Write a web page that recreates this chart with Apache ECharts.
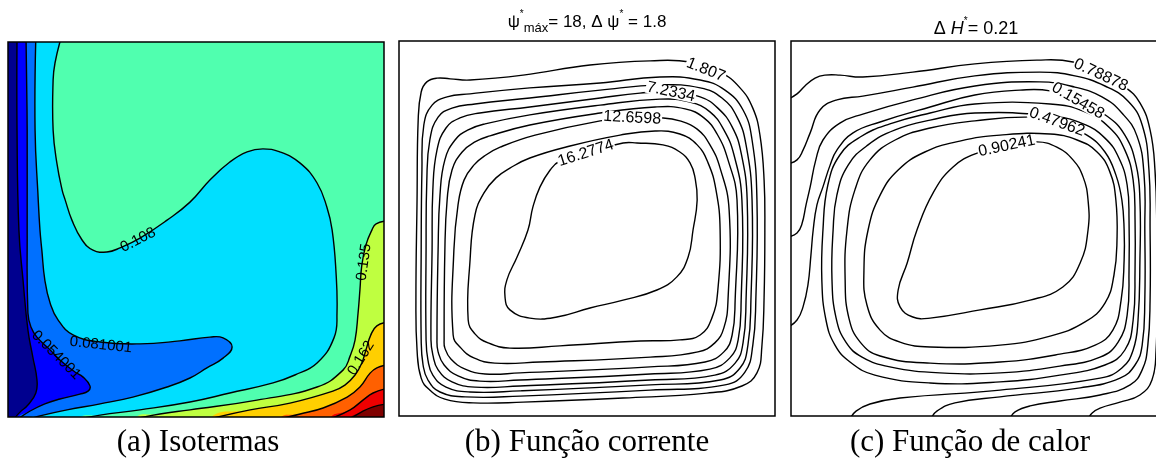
<!DOCTYPE html>
<html>
<head>
<meta charset="utf-8">
<script src="https://cdn.jsdelivr.net/npm/echarts/dist/echarts.min.js"></script>
<style>
  html, body { margin: 0; padding: 0; background: #fff; }
  #chart { width: 1156px; height: 463px; }
</style>
</head>
<body>
<div id="chart"></div>
<script>
// ---------- (a) Isotermas: dimensionless temperature bands ----------
const isoLevels = [0.027, 0.054, 0.081, 0.108, 0.135, 0.162, 0.189, 0.216, 0.243];
const isoBandColors = ['#00008F', '#0000FF', '#0070FF', '#00DFFF', '#50FFAF',
                       '#BFFF40', '#FFCF00', '#FF6000', '#EF0000', '#800000'];

// Isotherms in cavity coordinates (X, Y), from the wall where they enter down to the floor
const iso027 = [[0.024,1.011],[0.024,0.765],[0.029,0.499],[0.040,0.365],[0.053,0.232],[0.066,0.160],[0.077,0.099],[0.074,0.064],[0.053,0.032],[0.032,0.013],[0.013,-0.008]];
const iso054 = [[0.048,1.011],[0.051,0.765],[0.051,0.499],[0.053,0.277],[0.061,0.240],[0.077,0.213],[0.112,0.179],[0.138,0.152],[0.178,0.120],[0.199,0.107],[0.218,0.083],[0.213,0.069],[0.191,0.061],[0.138,0.048],[0.098,0.035],[0.059,0.016],[0.027,-0.005]];
const iso081 = [[0.074,1.011],[0.072,0.765],[0.080,0.587],[0.085,0.499],[0.090,0.445],[0.098,0.365],[0.112,0.304],[0.133,0.259],[0.173,0.219],[0.245,0.200],[0.351,0.195],[0.457,0.203],[0.537,0.213],[0.572,0.211],[0.596,0.187],[0.572,0.157],[0.529,0.131],[0.484,0.104],[0.423,0.080],[0.332,0.053],[0.245,0.035],[0.157,0.019],[0.085,0.003],[0.059,-0.005]];
const iso108 = [[0.141,1.011],[0.125,0.944],[0.120,0.899],[0.120,0.765],[0.130,0.677],[0.144,0.605],[0.152,0.579],[0.170,0.525],[0.197,0.472],[0.226,0.445],[0.263,0.440],[0.298,0.451],[0.351,0.477],[0.423,0.525],[0.484,0.573],[0.537,0.632],[0.590,0.680],[0.636,0.707],[0.678,0.715],[0.723,0.707],[0.777,0.677],[0.822,0.624],[0.848,0.560],[0.862,0.499],[0.872,0.392],[0.875,0.277],[0.867,0.211],[0.822,0.144],[0.763,0.112],[0.705,0.091],[0.590,0.064],[0.484,0.040],[0.351,0.019],[0.245,0.005],[0.191,-0.005]];
const iso135 = [[1.011,0.523],[0.979,0.515],[0.968,0.499],[0.952,0.459],[0.941,0.405],[0.936,0.339],[0.931,0.277],[0.923,0.205],[0.910,0.163],[0.891,0.125],[0.822,0.080],[0.662,0.045],[0.484,0.019],[0.404,0.008],[0.338,-0.005]];
const iso162 = [[1.011,0.253],[0.981,0.243],[0.965,0.219],[0.952,0.179],[0.941,0.144],[0.923,0.112],[0.896,0.085],[0.864,0.069],[0.750,0.037],[0.644,0.019],[0.537,-0.005]];
const iso189 = [[1.011,0.139],[0.981,0.131],[0.963,0.117],[0.936,0.080],[0.902,0.053],[0.838,0.024],[0.777,0.008],[0.723,-0.005]];
const iso216 = [[1.011,0.077],[0.971,0.064],[0.944,0.045],[0.910,0.019],[0.856,-0.005]];
const iso243 = [[1.011,0.035],[0.971,0.027],[0.936,0.011],[0.910,-0.005]];
const isoLines = [iso027, iso054, iso081, iso108, iso135, iso162, iso189, iso216, iso243];

const isoLabelText  = ['0.108', '0.081001', '0.054001', '0.135', '0.162'];
const isoLabelAt    = [[0.346,0.472], [0.247,0.192], [0.128,0.165], [0.947,0.413], [0.939,0.157]];
const isoLabelAngle = [27, -6, -45, 82, 58];

// ---------- (b) Função corrente: closed streamlines, psi = 1.807 ... 16.2774 ----------
const psiLevels = [1.807, 3.6156, 5.4243, 7.2334, 9.0416, 10.8503, 12.6598, 14.4677, 16.2774];
const psi1 = [[0.045,0.309],[0.048,0.576],[0.051,0.789],[0.059,0.864],[0.074,0.891],[0.101,0.901],[0.136,0.899],[0.189,0.896],[0.330,0.909],[0.508,0.936],[0.668,0.947],[0.774,0.944],[0.854,0.917],[0.907,0.875],[0.941,0.821],[0.960,0.749],[0.971,0.629],[0.973,0.496],[0.971,0.317],[0.965,0.184],[0.952,0.115],[0.912,0.080],[0.819,0.061],[0.596,0.048],[0.330,0.037],[0.197,0.035],[0.122,0.045],[0.082,0.069],[0.059,0.101],[0.048,0.176]];
const psi2 = [[0.059,0.203],[0.059,0.443],[0.061,0.656],[0.066,0.776],[0.088,0.829],[0.128,0.851],[0.189,0.859],[0.348,0.875],[0.535,0.888],[0.694,0.904],[0.801,0.896],[0.867,0.869],[0.915,0.816],[0.939,0.736],[0.952,0.576],[0.949,0.309],[0.941,0.189],[0.920,0.117],[0.867,0.083],[0.668,0.069],[0.322,0.053],[0.176,0.051],[0.109,0.064],[0.077,0.096],[0.064,0.136]];
const psi3 = [[0.072,0.203],[0.072,0.443],[0.074,0.629],[0.082,0.736],[0.104,0.797],[0.141,0.821],[0.202,0.832],[0.348,0.848],[0.535,0.869],[0.694,0.883],[0.801,0.875],[0.859,0.848],[0.899,0.797],[0.923,0.723],[0.939,0.576],[0.936,0.309],[0.928,0.189],[0.907,0.128],[0.854,0.096],[0.668,0.083],[0.322,0.067],[0.189,0.064],[0.125,0.077],[0.090,0.109],[0.077,0.149]];
const psi4 = [[0.085,0.203],[0.088,0.443],[0.090,0.603],[0.101,0.709],[0.125,0.768],[0.162,0.795],[0.215,0.808],[0.348,0.824],[0.535,0.848],[0.641,0.861],[0.723,0.864],[0.801,0.851],[0.848,0.821],[0.886,0.771],[0.910,0.701],[0.926,0.576],[0.923,0.309],[0.915,0.195],[0.894,0.141],[0.840,0.109],[0.668,0.096],[0.322,0.080],[0.202,0.077],[0.141,0.091],[0.104,0.123],[0.090,0.163]];
const psi5 = [[0.101,0.203],[0.104,0.443],[0.109,0.589],[0.122,0.683],[0.149,0.736],[0.184,0.763],[0.229,0.779],[0.348,0.803],[0.535,0.829],[0.694,0.845],[0.774,0.837],[0.827,0.811],[0.864,0.763],[0.891,0.696],[0.912,0.576],[0.910,0.309],[0.902,0.203],[0.880,0.155],[0.827,0.125],[0.668,0.112],[0.322,0.096],[0.215,0.093],[0.157,0.107],[0.120,0.136],[0.104,0.171]];
const psi6 = [[0.120,0.203],[0.122,0.443],[0.128,0.576],[0.141,0.656],[0.168,0.704],[0.202,0.731],[0.242,0.747],[0.348,0.776],[0.535,0.808],[0.681,0.824],[0.761,0.819],[0.811,0.795],[0.846,0.752],[0.875,0.683],[0.899,0.576],[0.894,0.309],[0.886,0.216],[0.864,0.171],[0.814,0.144],[0.668,0.131],[0.322,0.115],[0.229,0.112],[0.176,0.125],[0.138,0.152],[0.122,0.181]];
const psi7 = [[0.144,0.216],[0.146,0.443],[0.157,0.563],[0.173,0.629],[0.199,0.669],[0.231,0.696],[0.269,0.717],[0.362,0.749],[0.535,0.787],[0.620,0.795],[0.699,0.795],[0.747,0.787],[0.793,0.765],[0.827,0.723],[0.854,0.661],[0.878,0.549],[0.875,0.309],[0.864,0.235],[0.840,0.195],[0.795,0.171],[0.668,0.157],[0.375,0.144],[0.255,0.141],[0.199,0.155],[0.165,0.181]];
const psi8 = [[0.184,0.256],[0.189,0.416],[0.202,0.536],[0.226,0.595],[0.258,0.635],[0.295,0.661],[0.348,0.688],[0.455,0.720],[0.588,0.749],[0.681,0.760],[0.747,0.752],[0.793,0.723],[0.822,0.675],[0.843,0.603],[0.854,0.496],[0.848,0.336],[0.832,0.261],[0.801,0.216],[0.747,0.203],[0.641,0.200],[0.428,0.187],[0.295,0.181],[0.237,0.195],[0.202,0.219]];
const psi9 = [[0.282,0.317],[0.287,0.363],[0.314,0.424],[0.343,0.496],[0.356,0.557],[0.375,0.611],[0.402,0.656],[0.428,0.680],[0.497,0.701],[0.596,0.728],[0.633,0.728],[0.702,0.723],[0.747,0.704],[0.774,0.675],[0.787,0.637],[0.793,0.576],[0.782,0.496],[0.769,0.424],[0.739,0.371],[0.686,0.336],[0.596,0.309],[0.508,0.288],[0.420,0.264],[0.348,0.261],[0.295,0.283]];
const psiLines = [psi1, psi2, psi3, psi4, psi5, psi6, psi7, psi8, psi9];

const psiLabelText  = ['1.807', '7.2334', '12.6598', '16.2774'];
const psiLabelAt    = [[0.816,0.923], [0.723,0.864], [0.620,0.795], [0.497,0.701]];
const psiLabelAngle = [-22, -12, -3, 18];

// ---------- (c) Função de calor: heatlines, step 0.21 ----------
// the four outer heatlines leave the hot wall and end on the floor; the inner five close on themselves
const heat1 = [[-0.011,0.843],[0.016,0.859],[0.037,0.880],[0.064,0.901],[0.090,0.909],[0.130,0.909],[0.191,0.904],[0.324,0.917],[0.489,0.939],[0.654,0.949],[0.750,0.944],[0.822,0.912],[0.888,0.877],[0.928,0.835],[0.955,0.763],[0.968,0.656],[0.973,0.496],[0.973,0.309],[0.971,0.176],[0.960,0.096],[0.928,0.056],[0.875,0.037],[0.822,0.021],[0.801,0.008],[0.790,-0.008]];
const heat2 = [[-0.011,0.672],[0.016,0.683],[0.032,0.709],[0.051,0.755],[0.077,0.816],[0.122,0.843],[0.191,0.853],[0.324,0.877],[0.489,0.907],[0.662,0.917],[0.755,0.907],[0.835,0.880],[0.896,0.840],[0.934,0.776],[0.952,0.656],[0.955,0.496],[0.955,0.309],[0.949,0.189],[0.934,0.123],[0.902,0.083],[0.822,0.056],[0.715,0.040],[0.636,0.027],[0.596,0.011],[0.582,-0.008]];
const heat3 = [[-0.011,0.477],[0.016,0.488],[0.029,0.512],[0.040,0.563],[0.051,0.611],[0.066,0.683],[0.085,0.736],[0.130,0.781],[0.191,0.805],[0.324,0.843],[0.489,0.880],[0.662,0.891],[0.755,0.877],[0.827,0.851],[0.880,0.808],[0.920,0.747],[0.939,0.643],[0.941,0.496],[0.941,0.309],[0.934,0.189],[0.915,0.136],[0.875,0.101],[0.769,0.075],[0.556,0.051],[0.436,0.035],[0.388,0.013],[0.372,-0.008]];
const heat4 = [[-0.011,0.235],[0.016,0.256],[0.032,0.291],[0.045,0.349],[0.053,0.429],[0.059,0.496],[0.069,0.563],[0.085,0.611],[0.104,0.669],[0.122,0.709],[0.165,0.755],[0.237,0.784],[0.370,0.824],[0.489,0.856],[0.609,0.869],[0.689,0.867],[0.763,0.840],[0.840,0.800],[0.888,0.749],[0.918,0.669],[0.928,0.576],[0.928,0.416],[0.923,0.256],[0.910,0.176],[0.880,0.128],[0.822,0.101],[0.556,0.069],[0.290,0.048],[0.210,0.032],[0.173,0.013],[0.157,-0.008]];
const heat5 = [[0.085,0.496],[0.082,0.363],[0.093,0.256],[0.117,0.189],[0.157,0.144],[0.223,0.109],[0.370,0.088],[0.556,0.091],[0.715,0.109],[0.835,0.136],[0.888,0.176],[0.910,0.256],[0.915,0.389],[0.915,0.523],[0.910,0.629],[0.888,0.709],[0.848,0.768],[0.782,0.811],[0.689,0.832],[0.489,0.832],[0.370,0.808],[0.263,0.779],[0.184,0.744],[0.130,0.696],[0.098,0.616]];
const heat6 = [[0.112,0.496],[0.109,0.363],[0.120,0.261],[0.146,0.197],[0.189,0.157],[0.263,0.131],[0.396,0.115],[0.556,0.115],[0.715,0.133],[0.822,0.157],[0.870,0.197],[0.894,0.269],[0.899,0.389],[0.899,0.523],[0.894,0.616],[0.872,0.688],[0.835,0.741],[0.777,0.779],[0.689,0.800],[0.489,0.808],[0.370,0.789],[0.277,0.763],[0.205,0.723],[0.152,0.669],[0.122,0.589]];
const heat7 = [[0.149,0.496],[0.144,0.363],[0.154,0.261],[0.184,0.197],[0.237,0.160],[0.370,0.141],[0.556,0.144],[0.715,0.165],[0.809,0.189],[0.856,0.229],[0.878,0.309],[0.886,0.416],[0.886,0.496],[0.880,0.576],[0.864,0.643],[0.835,0.704],[0.787,0.749],[0.707,0.784],[0.630,0.797],[0.489,0.787],[0.370,0.768],[0.277,0.736],[0.210,0.683],[0.170,0.603]];
const heat8 = [[0.205,0.496],[0.194,0.389],[0.202,0.296],[0.237,0.229],[0.290,0.197],[0.370,0.184],[0.556,0.189],[0.689,0.213],[0.782,0.251],[0.835,0.301],[0.859,0.376],[0.867,0.469],[0.864,0.576],[0.848,0.651],[0.814,0.704],[0.761,0.736],[0.689,0.752],[0.556,0.749],[0.449,0.733],[0.356,0.704],[0.285,0.656],[0.237,0.589]];
const heat9 = [[0.335,0.496],[0.309,0.408],[0.285,0.336],[0.290,0.291],[0.324,0.264],[0.370,0.261],[0.503,0.283],[0.636,0.309],[0.723,0.344],[0.769,0.408],[0.790,0.496],[0.790,0.576],[0.777,0.637],[0.750,0.683],[0.707,0.717],[0.654,0.731],[0.574,0.720],[0.495,0.701],[0.431,0.664],[0.378,0.595]];
const heatOpenLines = [heat1, heat2, heat3, heat4];
const heatClosedLines = [heat5, heat6, heat7, heat8, heat9];

const heatLabelText  = ['0.78878', '0.15458', '0.47962', '0.90241'];
const heatLabelAt    = [[0.824,0.909], [0.763,0.840], [0.707,0.784], [0.574,0.720]];
const heatLabelAngle = [-25, -30, -20, 12];

// ---------- drawing helpers ----------
const SMOOTH = 0.45;
const LINE_W = 1.4;
const LABEL_FONT = '"Liberation Sans", Arial, sans-serif';

function clipRect(params) {
  const cs = params.coordSys;
  return { type: 'rect', shape: { x: cs.x, y: cs.y, width: cs.width, height: cs.height } };
}

// closes an isotherm around the hot (lower right) side of the cavity so it can be filled
function hotSideRing(line) {
  const first = line[0], last = line[line.length - 1];
  const ring = line.slice();
  ring.push([last[0], -0.12], [1.12, -0.12]);
  if (first[1] > 1) ring.push([1.12, 1.12], [first[0], 1.12]);
  else ring.push([1.12, first[1]]);
  return ring;
}

function contourSeries(gi, lines, closed) {
  return {
    type: 'custom', xAxisIndex: gi, yAxisIndex: gi, silent: true, z: 3, clip: true,
    data: lines.map((l, i) => [i, i]),
    renderItem(params, api) {
      const pts = lines[params.dataIndex].map(p => api.coord(p));
      return {
        type: 'group', clipPath: clipRect(params),
        children: [{
          type: closed ? 'polygon' : 'polyline',
          shape: { points: pts, smooth: SMOOTH },
          style: { fill: null, stroke: '#000', lineWidth: LINE_W }
        }]
      };
    }
  };
}

function labelSeries(gi, texts, at, angles, fontSize, withGap) {
  return {
    type: 'custom', xAxisIndex: gi, yAxisIndex: gi, silent: true, z: 5,
    data: texts.map((t, i) => [i, i]),
    renderItem(params, api) {
      const i = params.dataIndex;
      const p = api.coord(at[i]);
      const style = {
        text: texts[i], fill: '#000', align: 'center', verticalAlign: 'middle',
        font: fontSize + 'px ' + LABEL_FONT
      };
      if (withGap) {
        style.backgroundColor = '#fff';
        style.padding = [0, 1];
        style.lineHeight = fontSize - 4;
      }
      return { type: 'text', x: p[0], y: p[1], rotation: angles[i] * Math.PI / 180, style };
    }
  };
}

function frameSeries(gi) {
  return {
    type: 'custom', xAxisIndex: gi, yAxisIndex: gi, silent: true, z: 10,
    data: [[0, 0]],
    renderItem(params, api) {
      const tl = api.coord([0, 1]), br = api.coord([1, 0]);
      return {
        type: 'rect',
        shape: { x: tl[0], y: tl[1], width: br[0] - tl[0], height: br[1] - tl[1] },
        style: { fill: null, stroke: '#000', lineWidth: 1.5 }
      };
    }
  };
}

const fillSeries = {
  type: 'custom', xAxisIndex: 0, yAxisIndex: 0, silent: true, z: 1, clip: true,
  data: isoBandColors.map((c, i) => [i, i]),
  renderItem(params, api) {
    const k = params.dataIndex;
    const ring = k === 0
      ? [[-0.1, -0.1], [1.1, -0.1], [1.1, 1.1], [-0.1, 1.1]]
      : hotSideRing(isoLines[k - 1]);
    return {
      type: 'group', clipPath: clipRect(params),
      children: [{
        type: 'polygon',
        shape: { points: ring.map(p => api.coord(p)), smooth: k === 0 ? 0 : SMOOTH },
        style: { fill: isoBandColors[k], stroke: null }
      }]
    };
  }
};

// the third panel is wider than the page and is cut at its right edge
const grids = [
  { left: 8,   top: 42, width: 376, height: 375 },
  { left: 399, top: 41, width: 376, height: 375 },
  { left: 791, top: 41, width: 376, height: 375 }
];

const axisBase = { type: 'value', min: 0, max: 1, show: false };

const capFont = { fontFamily: '"Liberation Serif", "Times New Roman", serif', fontSize: 31, color: '#000', fontWeight: 'normal' };
const tBase = { fontFamily: LABEL_FONT, color: '#000', fontWeight: 'normal' };
const titleRich = {
  t:   Object.assign({ fontSize: 17, lineHeight: 26 }, tBase),
  sup: Object.assign({ fontSize: 10, verticalAlign: 'top', lineHeight: 14 }, tBase),
  sub: Object.assign({ fontSize: 13, verticalAlign: 'bottom', lineHeight: 14 }, tBase)
};
const titleRichC = {
  t:   Object.assign({ fontSize: 18, lineHeight: 26 }, tBase),
  it:  Object.assign({ fontSize: 18, lineHeight: 26, fontStyle: 'italic' }, tBase),
  sup: Object.assign({ fontSize: 10, verticalAlign: 'top', lineHeight: 14 }, tBase)
};

const option = {
  backgroundColor: '#fff',
  animation: false,
  grid: grids.map(g => Object.assign({
    show: true, borderWidth: 0, backgroundColor: '#fff',
    containLabel: false, outerBoundsMode: 'none'
  }, g)),
  xAxis: grids.map((g, i) => Object.assign({ gridIndex: i }, axisBase)),
  yAxis: grids.map((g, i) => Object.assign({ gridIndex: i }, axisBase)),
  title: [
    { text: '{t|ψ}{sup|*}{sub|máx}{t|= 18, Δ ψ}{sup|*}{t| = 1.8}', left: 587, top: 9, textAlign: 'center', padding: 0,
      textStyle: Object.assign({ rich: titleRich }, tBase) },
    { text: '{t|Δ }{it|H}{sup|*}{t|= 0.21}', left: 976, top: 16, textAlign: 'center', padding: 0,
      textStyle: Object.assign({ rich: titleRichC }, tBase) },
    { text: '(a) Isotermas', left: 198, top: 427, textAlign: 'center', padding: 0, textStyle: capFont },
    { text: '(b) Função corrente', left: 587, top: 427, textAlign: 'center', padding: 0, textStyle: capFont },
    { text: '(c) Função de calor', left: 970, top: 427, textAlign: 'center', padding: 0, textStyle: capFont }
  ],
  series: [
    fillSeries,
    contourSeries(0, isoLines, false),
    labelSeries(0, isoLabelText, isoLabelAt, isoLabelAngle, 15, false),
    frameSeries(0),

    contourSeries(1, psiLines, true),
    labelSeries(1, psiLabelText, psiLabelAt, psiLabelAngle, 16, true),
    frameSeries(1),

    contourSeries(2, heatOpenLines, false),
    contourSeries(2, heatClosedLines, true),
    labelSeries(2, heatLabelText, heatLabelAt, heatLabelAngle, 16, true),
    frameSeries(2)
  ]
};

const chart = echarts.init(document.getElementById('chart'), null, { renderer: 'canvas' });
chart.setOption(option);
</script>
</body>
</html>
